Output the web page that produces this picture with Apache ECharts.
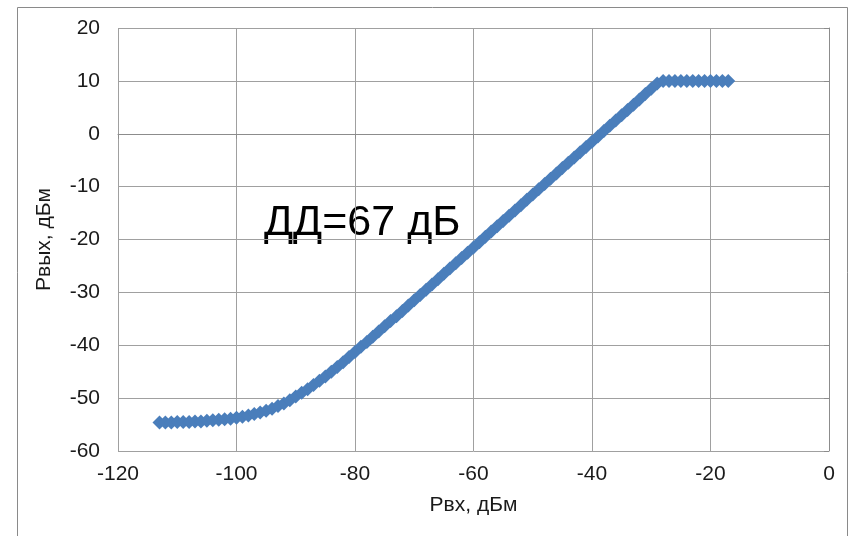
<!DOCTYPE html>
<html><head><meta charset="utf-8">
<script src="https://cdn.jsdelivr.net/npm/echarts@6/dist/echarts.min.js"></script>
<style>html,body{margin:0;padding:0;background:#fff}#c{width:857px;height:536px}</style>
</head><body><div id="c"></div>
<script>
var xTitle = 'Рвх, дБм';
var yTitle = 'Рвых, дБм';
var annotation = 'ДД=67 дБ';
var pin = [-113,-112,-111,-110,-109,-108,-107,-106,-105,-104,-103,-102,-101,-100,-99,-98,-97,-96,-95,-94,-93,-92,-91,-90,-89,-88,-87,-86,-85,-84,-83,-82,-81,-80,-79,-78,-77,-76,-75,-74,-73,-72,-71,-70,-69,-68,-67,-66,-65,-64,-63,-62,-61,-60,-59,-58,-57,-56,-55,-54,-53,-52,-51,-50,-49,-48,-47,-46,-45,-44,-43,-42,-41,-40,-39,-38,-37,-36,-35,-34,-33,-32,-31,-30,-29,-28,-27,-26,-25,-24,-23,-22,-21,-20,-19,-18,-17];
var pout = [-54.6,-54.6,-54.6,-54.5,-54.5,-54.5,-54.4,-54.4,-54.3,-54.2,-54.1,-54.0,-53.9,-53.7,-53.5,-53.3,-53.0,-52.7,-52.4,-52.0,-51.5,-51.0,-50.4,-49.7,-49.0,-48.3,-47.5,-46.7,-45.9,-45.0,-44.1,-43.2,-42.2,-41.3,-40.3,-39.4,-38.4,-37.4,-36.4,-35.4,-34.5,-33.5,-32.5,-31.5,-30.5,-29.5,-28.5,-27.5,-26.5,-25.5,-24.5,-23.5,-22.5,-21.5,-20.5,-19.5,-18.5,-17.5,-16.5,-15.5,-14.5,-13.5,-12.5,-11.5,-10.5,-9.5,-8.5,-7.5,-6.5,-5.5,-4.5,-3.5,-2.5,-1.5,-0.5,0.5,1.5,2.5,3.5,4.5,5.5,6.5,7.5,8.5,9.5,10,10,10,10,10,10,10,10,10,10,10,10];
var xRange = [-120, 0, 20];
var yRange = [-60, 20, 10];

var pts = pin.map(function(x,i){return [x,pout[i]];});
var chart = echarts.init(document.getElementById('c'));
var font = 'Liberation Sans, Arial, sans-serif';
chart.setOption({
  animation:false,
  grid:{left:118,right:28,top:28,bottom:85},
  xAxis:{type:'value',min:xRange[0],max:xRange[1],interval:xRange[2],
    name:xTitle,nameLocation:'middle',nameGap:44,
    nameTextStyle:{fontFamily:font,fontSize:21,color:'#1a1a1a'},
    axisLine:{lineStyle:{color:'#8c8c8c',width:1}},
    axisTick:{show:true,length:5,lineStyle:{color:'#8c8c8c'}},
    axisLabel:{fontFamily:font,fontSize:21,color:'#1a1a1a',margin:13},
    splitLine:{show:true,lineStyle:{color:'#a0a0a0',width:1}}},
  yAxis:{type:'value',min:yRange[0],max:yRange[1],interval:yRange[2],
    name:yTitle,nameLocation:'middle',nameGap:63,nameRotate:90,
    nameTextStyle:{fontFamily:font,fontSize:21,color:'#1a1a1a'},
    axisLine:{show:true,lineStyle:{color:'#8c8c8c',width:1}},
    axisTick:{show:true,length:5,lineStyle:{color:'#8c8c8c'}},
    axisLabel:{fontFamily:font,fontSize:21,color:'#1a1a1a',margin:18},
    splitLine:{show:true,lineStyle:{color:'#a0a0a0',width:1}}},
  series:[{type:'scatter',data:pts,symbol:'diamond',symbolSize:14,
    itemStyle:{color:'#4a7ebb',opacity:1}}],
  graphic:[
    {type:'rect',shape:{x:17.5,y:7.5,width:830,height:560},style:{fill:'none',stroke:'#8a8a8a',lineWidth:1},silent:true,z:-1},
    {type:'text',left:264,top:202,style:{text:annotation,font:'43px Liberation Sans, Arial, sans-serif',fill:'#000'}}
  ]
});
</script></body></html>
